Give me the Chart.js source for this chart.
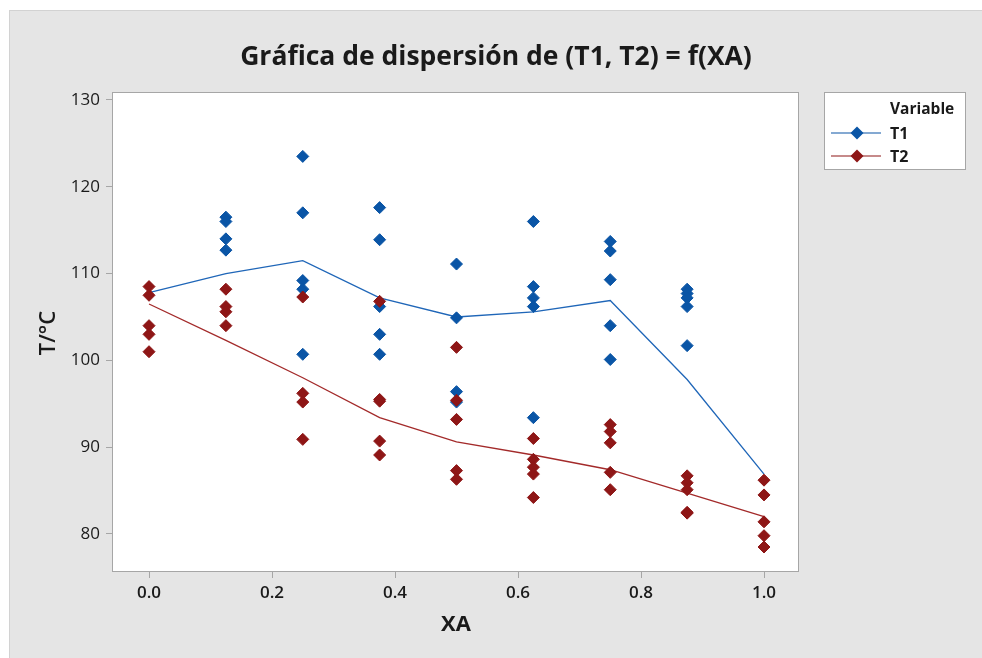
<!DOCTYPE html>
<html>
<head>
<meta charset="utf-8">
<script src="https://cdn.jsdelivr.net/npm/chart.js@4"></script>
<style>
  html, body { margin: 0; padding: 0; background: #fff; }
  canvas { display: block; }
</style>
</head>
<body>
<canvas id="chart" width="982" height="658"></canvas>
<script>
// XA levels and observed temperatures at each level
const xaLevels = [0, 0.125, 0.25, 0.375, 0.5, 0.625, 0.75, 0.875, 1.0];
const t1Obs = [
  [],
  [116.5, 116.0, 114.0, 112.7],
  [123.5, 117.0, 109.2, 108.2, 100.7],
  [117.6, 113.9, 106.2, 103.0, 100.7],
  [111.1, 104.9, 96.4, 95.2],
  [116.0, 108.5, 107.2, 106.2, 93.4],
  [113.7, 112.6, 109.3, 104.0, 100.1],
  [108.2, 107.7, 107.2, 106.2, 101.7],
  []
];
const t2Obs = [
  [108.5, 107.5, 104.0, 103.0, 101.0],
  [108.2, 106.2, 105.6, 104.0],
  [107.3, 96.2, 95.2, 90.9],
  [106.8, 95.5, 95.3, 90.7, 89.1],
  [101.5, 95.4, 93.2, 87.3, 86.3],
  [91.0, 88.6, 87.7, 86.9, 84.2],
  [92.6, 91.8, 90.5, 87.1, 85.1],
  [86.7, 85.9, 85.1, 82.5, 82.4],
  [86.2, 84.5, 81.4, 79.8, 78.5]
];
// connect lines (smoother through each level)
const t1Fit = [107.8, 110.0, 111.5, 107.2, 105.0, 105.6, 106.9, 97.8, 86.9];
const t2Fit = [106.5, 102.3, 98.0, 93.4, 90.6, 89.1, 87.4, 84.7, 82.0];

const xTicks = [0.0, 0.2, 0.4, 0.6, 0.8, 1.0];
const yTicks = [80, 90, 100, 110, 120, 130];

const seriesNames = ['T1', 'T2'];
const BLUE = '#0a55a6';
const RED = '#8e1616';
const FONT = "'Open Sans', 'Noto Sans', sans-serif";

function toPoints(obs) {
  const pts = [];
  obs.forEach((vals, i) => vals.forEach(v => pts.push({ x: xaLevels[i], y: v })));
  return pts;
}
function toLine(fit) {
  return fit.map((v, i) => ({ x: xaLevels[i], y: v }));
}

// background, frame, titles and legend
const decor = {
  id: 'decor',
  beforeDraw(chart) {
    const c = chart.ctx, a = chart.chartArea;
    c.save();
    c.fillStyle = '#ffffff';
    c.fillRect(0, 0, chart.width, chart.height);
    c.fillStyle = '#e5e5e5';
    c.fillRect(9, 10, chart.width - 9, chart.height - 10);
    c.strokeStyle = '#d2d2d2';
    c.lineWidth = 1;
    c.strokeRect(9.5, 10.5, chart.width, chart.height);
    c.fillStyle = '#ffffff';
    c.fillRect(a.left, a.top, a.right - a.left, a.bottom - a.top);
    c.restore();
  },
  beforeDatasetsDraw(chart) {
    const c = chart.ctx, a = chart.chartArea;
    c.save();
    c.strokeStyle = '#a6a6a6';
    c.lineWidth = 1;
    c.strokeRect(a.left + 0.5, a.top + 0.5, a.right - a.left - 1, a.bottom - a.top - 1);
    c.restore();
  },
  afterDraw(chart) {
    const c = chart.ctx;
    c.save();
    c.fillStyle = '#1a1a1a';
    c.textAlign = 'center';
    c.textBaseline = 'middle';
    c.font = `700 26.5px ${FONT}`;
    c.fillText('Gráfica de dispersión de (T1, T2) = f(XA)', 496, 57);

    c.font = `700 22px ${FONT}`;
    c.fillText('XA', 456, 625);
    c.save();
    c.translate(49, 333);
    c.rotate(-Math.PI / 2);
    c.font = `600 22px ${FONT}`;
    c.fillText('T/°C', 0, 0);
    c.restore();

    // legend
    c.fillStyle = '#ffffff';
    c.fillRect(824, 92, 142, 78);
    c.strokeStyle = '#a6a6a6';
    c.strokeRect(824.5, 92.5, 141, 77);
    c.fillStyle = '#1a1a1a';
    c.textAlign = 'left';
    c.font = `700 15.5px ${FONT}`;
    c.fillText('Variable', 890, 110);
    c.font = `700 16px ${FONT}`;
    const rows = [chart.data.datasets[1], chart.data.datasets[0]];
    rows.forEach((ds, i) => {
      const y = 133 + i * 23;
      c.strokeStyle = ds.borderColor;
      c.lineWidth = 1.2;
      c.beginPath();
      c.moveTo(831, y);
      c.lineTo(881, y);
      c.stroke();
      c.fillStyle = ds.backgroundColor;
      c.beginPath();
      c.moveTo(857, y - 6.5);
      c.lineTo(863.5, y);
      c.lineTo(857, y + 6.5);
      c.lineTo(850.5, y);
      c.closePath();
      c.fill();
      c.fillStyle = '#1a1a1a';
      c.fillText(ds.label, 890, y + 1);
    });
    c.restore();
  }
};

new Chart(document.getElementById('chart'), {
  type: 'scatter',
  data: {
    datasets: [
      {
        label: seriesNames[1],
        data: toPoints(t2Obs),
        backgroundColor: RED,
        borderColor: RED,
        pointStyle: 'rectRot',
        pointRadius: 6,
        borderWidth: 1,
        showLine: false,
        order: 0
      },
      {
        label: seriesNames[0],
        data: toPoints(t1Obs),
        backgroundColor: BLUE,
        borderColor: BLUE,
        pointStyle: 'rectRot',
        pointRadius: 6,
        borderWidth: 1,
        showLine: false,
        order: 1
      },
      {
        label: 'T2 fit',
        data: toLine(t2Fit),
        borderColor: '#a32a2a',
        borderWidth: 1.3,
        pointRadius: 0,
        showLine: true,
        tension: 0,
        order: 2
      },
      {
        label: 'T1 fit',
        data: toLine(t1Fit),
        borderColor: '#1f66b8',
        borderWidth: 1.3,
        pointRadius: 0,
        showLine: true,
        tension: 0,
        order: 3
      }
    ]
  },
  options: {
    responsive: false,
    animation: false,
    devicePixelRatio: 1,
    layout: { padding: { left: 0, top: 92, right: 183, bottom: 0 } },
    plugins: {
      legend: { display: false },
      title: { display: false },
      tooltip: { enabled: false }
    },
    scales: {
      x: {
        type: 'linear',
        min: -0.0602,
        max: 1.0569,
        afterBuildTicks: s => { s.ticks = xTicks.map(v => ({ value: v })); },
        afterFit: s => { s.height = 86; },
        border: { display: false },
        grid: { drawOnChartArea: false, drawTicks: true, tickLength: 6, color: '#a6a6a6' },
        ticks: {
          color: '#1a1a1a',
          padding: 5,
          maxRotation: 0,
          font: { family: FONT, size: 17, weight: '600' },
          callback: v => Number(v).toFixed(1)
        }
      },
      y: {
        type: 'linear',
        min: 75.62,
        max: 130.92,
        afterBuildTicks: s => { s.ticks = yTicks.map(v => ({ value: v })); },
        afterFit: s => { s.width = 112; },
        border: { display: false },
        grid: { drawOnChartArea: false, drawTicks: true, tickLength: 6, color: '#a6a6a6' },
        ticks: {
          color: '#1a1a1a',
          padding: 6,
          font: { family: FONT, size: 17, weight: '500' },
          callback: v => String(v)
        }
      }
    }
  },
  plugins: [decor]
});
</script>
</body>
</html>
